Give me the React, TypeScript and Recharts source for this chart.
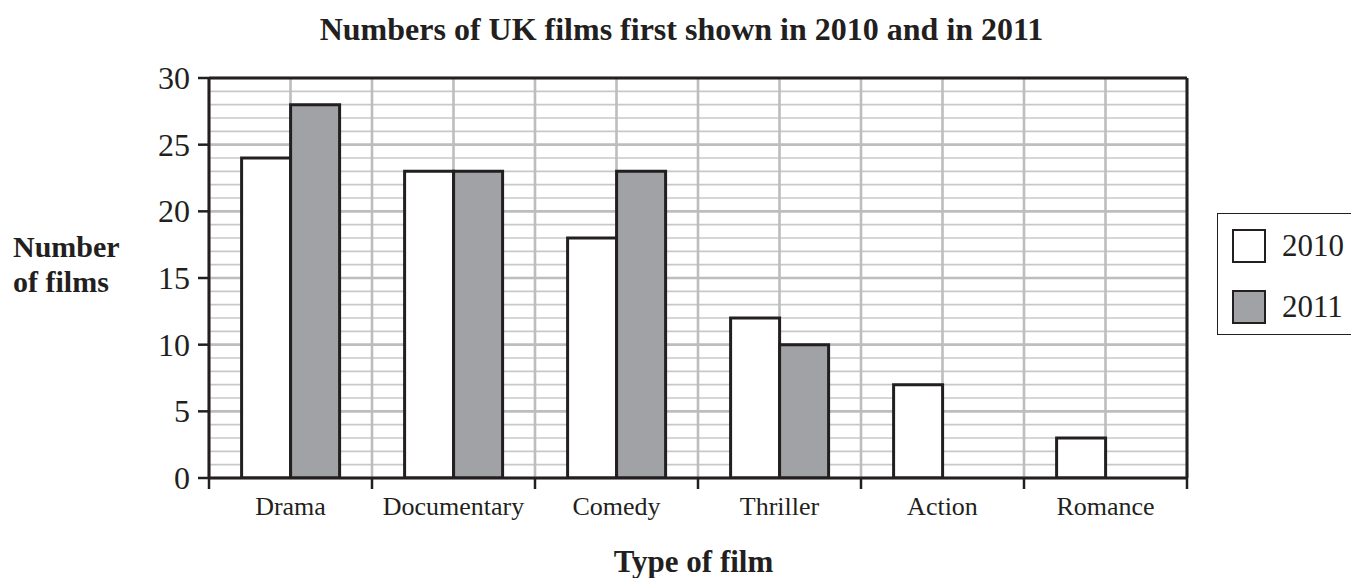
import { BarChart, Bar, XAxis, YAxis, CartesianGrid, ReferenceLine } from 'recharts';

const categories = ['Drama', 'Documentary', 'Comedy', 'Thriller', 'Action', 'Romance'];
const films2010 = [24, 23, 18, 12, 7, 3];
const films2011 = [28, 23, 23, 10, 0, 0];
const yLabelTicks = [0, 5, 10, 15, 20, 25, 30];
const yMax = 30;

const series = [
  { key: 'y2010', name: '2010', fill: '#ffffff' },
  { key: 'y2011', name: '2011', fill: '#a1a2a5' },
];

const INK = '#231f20';
const SERIF = '"Liberation Serif", "Times New Roman", serif';

// pos = centre of each category on a 0..n numeric axis
const data = categories.map((category, i) => ({ category, pos: i + 0.5, y2010: films2010[i], y2011: films2011[i] }));
const xTicks = categories.flatMap((_, i) => [i, i + 0.5]).concat(categories.length);
const yGridTicks = Array.from({ length: yMax + 1 }, (_, i) => i);

function XTick({ x, y, payload }: any) {
  const v = payload.value as number;
  if (Number.isInteger(v)) {
    return <line x1={x} y1={y} x2={x} y2={y + 11} stroke={INK} strokeWidth={2.5} />;
  }
  return (
    <text x={x} y={y + 37} textAnchor="middle" fontSize={26} fontFamily={SERIF} fill={INK}>
      {categories[Math.floor(v)]}
    </text>
  );
}

function YTick({ x, y, payload }: any) {
  const v = payload.value as number;
  if (!yLabelTicks.includes(v)) return <g />;
  return (
    <g>
      <line x1={x - 11} y1={y} x2={x} y2={y} stroke={INK} strokeWidth={2.5} />
      <text x={x - 19} y={y} dy="0.34em" textAnchor="end" fontSize={32} fontFamily={SERIF} fill={INK}>
        {v}
      </text>
    </g>
  );
}

function HLine(props: any) {
  const { x1, x2, y1, y2, index } = props;
  const major = index % 5 === 0;
  return <line x1={x1} x2={x2} y1={y1} y2={y2} stroke={major ? '#bdbdbd' : '#c8c8c8'} strokeWidth={major ? 2.6 : 1.6} />;
}

function VLine(props: any) {
  const { x1, x2, y1, y2 } = props;
  return <line x1={x1} x2={x2} y1={y1} y2={y2} stroke="#bdbdbd" strokeWidth={2.6} />;
}

export default function App() {
  return (
    <div style={{ position: 'absolute', left: 0, top: 0, width: 1351, height: 578, overflow: 'hidden', background: '#fff', fontFamily: SERIF, color: INK }}>
      <div style={{ position: 'absolute', left: 681.5, top: 13, transform: 'translateX(-50%)', whiteSpace: 'nowrap', fontSize: 32, fontWeight: 'bold', lineHeight: '32px' }}>
        Numbers of UK films first shown in 2010 and in 2011
      </div>
      <div style={{ position: 'absolute', left: 13, top: 229, fontSize: 30, fontWeight: 'bold', lineHeight: '35px' }}>
        Number
        <br />
        of films
      </div>
      <div style={{ position: 'absolute', left: 693.5, top: 546, transform: 'translateX(-50%)', whiteSpace: 'nowrap', fontSize: 31, fontWeight: 'bold', lineHeight: '31px' }}>
        Type of film
      </div>
      <BarChart width={1351} height={578} data={data} margin={{ top: 78, right: 164, bottom: 0, left: 0 }} barCategoryGap="20%" barGap={0}>
        <CartesianGrid horizontal={<HLine />} vertical={<VLine />} />
        <XAxis
          dataKey="pos"
          type="number"
          domain={[0, categories.length]}
          allowDataOverflow
          ticks={xTicks}
          interval={0}
          height={100}
          tickSize={0}
          tickMargin={0}
          tickLine={false}
          axisLine={{ stroke: INK, strokeWidth: 3 }}
          tick={<XTick />}
        />
        <YAxis
          domain={[0, yMax]}
          allowDataOverflow
          ticks={yGridTicks}
          interval={0}
          width={209}
          tickSize={0}
          tickMargin={0}
          tickLine={false}
          axisLine={{ stroke: INK, strokeWidth: 3 }}
          tick={<YTick />}
        />
        {series.map((s) => (
          <Bar key={s.key} dataKey={s.key} name={s.name} fill={s.fill} stroke={INK} strokeWidth={3} isAnimationActive={false} />
        ))}
        <ReferenceLine y={yMax} stroke={INK} strokeWidth={3} />
        <ReferenceLine x={categories.length} stroke={INK} strokeWidth={3} />
      </BarChart>
      <div style={{ position: 'absolute', left: 1217, top: 213, width: 134, height: 122, border: `1.5px solid ${INK}`, borderRight: 'none', boxSizing: 'border-box', background: '#fff' }}>
        {series.map((s, i) => (
          <div key={s.key} style={{ position: 'absolute', left: 14, top: 15 + i * 61, display: 'flex', alignItems: 'center' }}>
            <div style={{ width: 34, height: 34, background: s.fill, border: `2.5px solid ${INK}`, boxSizing: 'border-box' }} />
            <span style={{ marginLeft: 16, fontSize: 31, fontFamily: SERIF, color: INK, lineHeight: '34px' }}>{s.name}</span>
          </div>
        ))}
      </div>
    </div>
  );
}
